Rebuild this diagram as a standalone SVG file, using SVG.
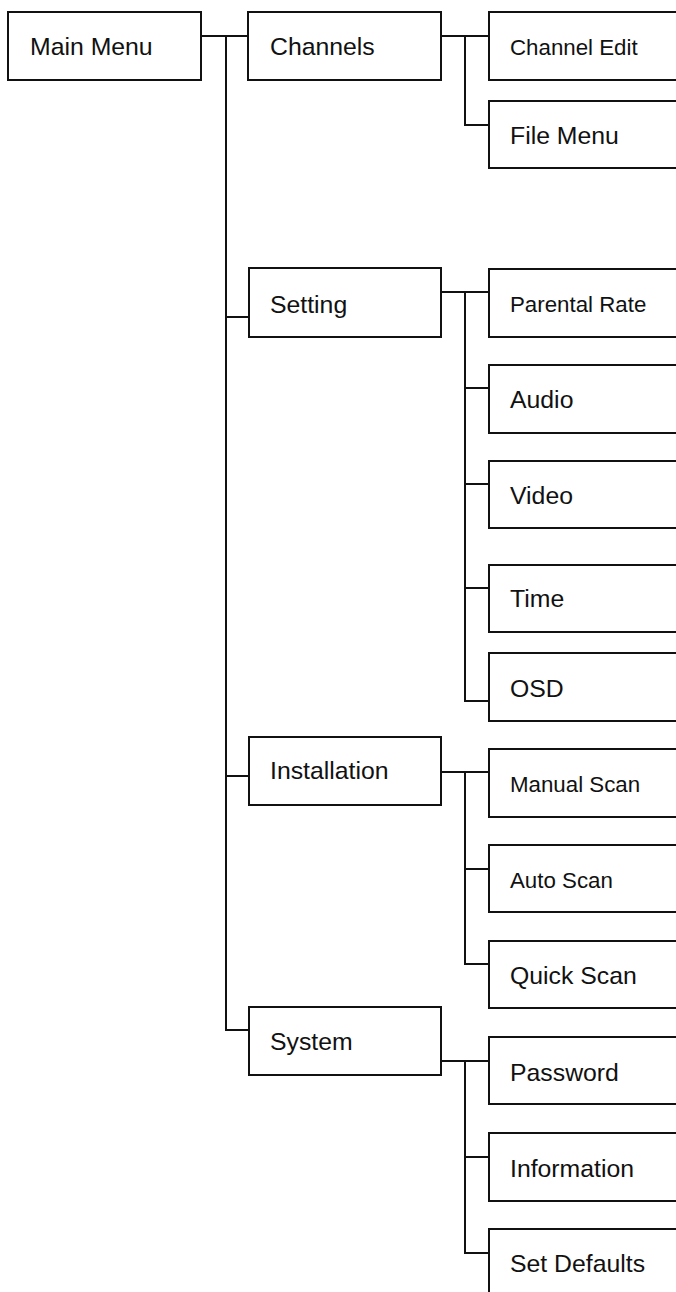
<svg xmlns="http://www.w3.org/2000/svg" width="676" height="1292" viewBox="0 0 676 1292">
<style>
.n rect{fill:#fff;stroke:#111;stroke-width:2}
.c path{fill:none;stroke:#111;stroke-width:2}
text{font-family:"Liberation Sans",Arial,sans-serif;fill:#111}
.l{font-size:24.8px}
.s{font-size:22.3px}
</style>
<rect width="676" height="1292" style="fill:#fff;stroke:none"/>
<g class="c" id="connectors">
<path d="M201 36H248M226 36V1030H249M226 317H249M226 776H249"/>
<path d="M441 36H489M465 36V125H489"/>
<path d="M441 292H489M465 292V701H489M465 388H489M465 484H489M465 588H489"/>
<path d="M441 772H489M465 772V964H489M465 869H489"/>
<path d="M441 1061H489M465 1061V1253H489M465 1157H489"/>
</g>
<g class="n">
<g id="main"><rect x="8" y="12" width="193" height="68"/><text class="l" x="30" y="55">Main Menu</text></g>
<g id="channels"><rect x="248" y="12" width="193" height="68"/><text class="l" x="270" y="55">Channels</text></g>
<g id="channel-edit"><rect x="489" y="12" width="220" height="68"/><text class="s" x="510" y="55">Channel Edit</text></g>
<g id="file-menu"><rect x="489" y="101" width="220" height="67"/><text class="l" x="510" y="144">File Menu</text></g>
<g id="setting"><rect x="249" y="268" width="192" height="69"/><text class="l" x="270" y="313">Setting</text></g>
<g id="parental-rate"><rect x="489" y="269" width="220" height="68"/><text class="s" x="510" y="312">Parental Rate</text></g>
<g id="audio"><rect x="489" y="365" width="220" height="68"/><text class="l" x="510" y="408">Audio</text></g>
<g id="video"><rect x="489" y="461" width="220" height="67"/><text class="l" x="510" y="504">Video</text></g>
<g id="time"><rect x="489" y="565" width="220" height="67"/><text class="l" x="510" y="607">Time</text></g>
<g id="osd"><rect x="489" y="653" width="220" height="68"/><text class="l" x="510" y="697">OSD</text></g>
<g id="installation"><rect x="249" y="737" width="192" height="68"/><text class="l" x="270" y="779">Installation</text></g>
<g id="manual-scan"><rect x="489" y="749" width="220" height="68"/><text class="s" x="510" y="792">Manual Scan</text></g>
<g id="auto-scan"><rect x="489" y="845" width="220" height="67"/><text class="s" x="510" y="888">Auto Scan</text></g>
<g id="quick-scan"><rect x="489" y="941" width="220" height="67"/><text class="l" x="510" y="984">Quick Scan</text></g>
<g id="system"><rect x="249" y="1007" width="192" height="68"/><text class="l" x="270" y="1050">System</text></g>
<g id="password"><rect x="489" y="1037" width="220" height="67"/><text class="l" x="510" y="1081">Password</text></g>
<g id="information"><rect x="489" y="1133" width="220" height="68"/><text class="l" x="510" y="1177">Information</text></g>
<g id="set-defaults"><rect x="489" y="1229" width="220" height="100"/><text class="l" x="510" y="1272">Set Defaults</text></g>
</g>
</svg>
